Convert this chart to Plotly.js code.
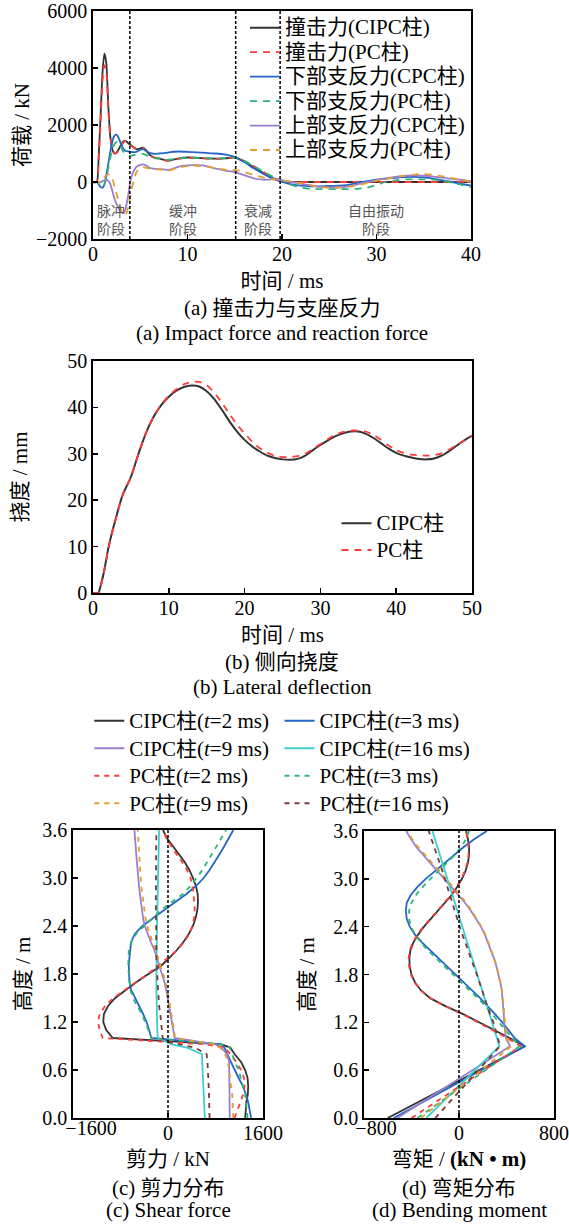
<!DOCTYPE html>
<html><head><meta charset="utf-8">
<script src="https://cdn.plot.ly/plotly-3.0.1.min.js"></script>
<style>html,body{margin:0;padding:0;background:#fff}#chart{width:569px;height:1224px}</style>
</head><body><div id="chart"></div>
<script>
// ---------------- (a) impact force and support reactions ----------------
const timeA = [0,0.4,0.6,0.8,1.0,1.2,1.4,1.6,1.8,2.0,2.2,2.4,2.6,2.8,3.0,3.2,3.4,3.6,3.8,4.0,4.3,4.6,5.0,5.3,5.6,6.0,6.5,7,7.5,8,9,10,11,12,13,14,15,16,17,18,19,20,21,22,23,24,25,26,27,28,29,30,31,32,33,34,35,36,37,38,39,40];
const impactCIPC = [0,0,900,2300,3800,4500,4200,2800,1700,1200,1020,1000,1080,1200,1330,1420,1440,1400,1340,1290,1220,1150,1180,1210,1120,950,860,830,780,750,820,860,850,830,820,830,860,720,520,320,140,30,0,0,0,0,0,0,0,0,0,0,0,0,0,0,0,0,0,0,0,0];
const impactPC = [0,0,800,2100,3500,4100,3900,2700,1700,1200,1050,1000,1060,1150,1280,1380,1430,1420,1370,1300,1220,1150,1170,1200,1100,930,850,820,770,750,810,850,840,820,810,830,860,740,560,360,170,50,0,0,0,0,0,0,0,0,0,0,0,0,0,0,0,0,0,0,0,0];
const lowerCPC = [0,0,-80,-180,-200,-100,200,600,1000,1350,1580,1660,1620,1480,1300,1170,1100,1080,1070,1060,1050,1060,1130,1150,1100,1020,990,1000,1010,1040,1070,1060,1040,1020,1000,960,880,700,480,290,120,0,-80,-130,-150,-150,-140,-130,-100,-30,30,80,120,150,170,180,160,120,60,0,-70,-130];
const lowerPC = [0,0,-50,-120,-150,-80,150,450,800,1100,1280,1380,1420,1330,1200,1070,980,940,920,920,940,960,980,990,950,880,840,820,790,780,820,850,850,840,830,840,850,740,560,370,190,60,-100,-200,-240,-250,-250,-250,-250,-240,-200,-100,0,60,90,90,90,80,50,-30,-100,-180];
const upperCPC = [0,0,0,0,20,60,80,50,-50,-250,-500,-700,-850,-980,-1060,-1090,-1000,-700,-300,100,380,530,600,620,580,500,460,450,440,420,530,580,590,560,470,400,350,240,130,80,90,60,0,-60,-120,-170,-190,-190,-150,-80,0,70,130,180,220,230,220,190,150,110,70,30];
const upperPC = [0,0,0,0,60,150,230,270,250,150,-50,-300,-550,-800,-1000,-1120,-1150,-1050,-750,-400,50,350,500,520,500,460,440,440,420,400,500,560,570,540,480,430,420,350,250,160,100,60,20,-40,-110,-170,-200,-200,-170,-110,-40,40,110,170,220,260,280,250,200,140,70,0];
const stageBounds = [3.9, 15.1, 19.8];
const stageNames = ['脉冲<br>阶段', '缓冲<br>阶段', '衰减<br>阶段', '自由振动<br>阶段'];
const stageCenters = [1.95, 9.5, 17.45, 29.9];

// ---------------- (b) lateral deflection ----------------
const timeB = [0,0.7,1,1.5,2,2.5,3,3.5,4,5,6,7,8,9,10,11,12,13,14,15,16,17,18,19,20,21,22,23,24,25,26,27,28,29,30,31,32,33,34,35,36,37,38,39,40,41,42,43,44,45,46,47,48,49,50];
const deflCIPC = [0,0,1.5,5,9.5,13,16,19,21.5,25,30,34.5,38,40.5,42.3,43.6,44.4,44.7,44.5,43.5,41.8,39.5,37,34.8,33,31.6,30.5,29.6,29.1,28.8,28.7,28.9,29.6,30.8,31.9,32.9,33.8,34.4,34.8,34.8,34.3,33.4,32.3,31.1,30.2,29.6,29.2,28.9,28.8,29,29.6,30.6,31.8,32.9,33.9];
const deflPC = [0,0,1.3,4.8,9.3,12.8,15.9,18.9,21.4,25,30,34.5,38,40.6,42.5,43.9,45,45.5,45.5,44.8,43.2,41,38.6,36.3,34.4,32.6,31.2,30.2,29.6,29.3,29.3,29.5,30,31,32.1,33.2,34.1,34.7,35,35,34.8,34.1,33,31.8,30.8,30.2,29.8,29.7,29.6,29.7,30.1,30.9,31.9,32.9,33.8];

// ---------------- (c) shear force distribution ----------------
const heightC = [0,0.1,0.2,0.3,0.4,0.5,0.6,0.7,0.8,0.88,0.92,0.96,1.0,1.1,1.2,1.3,1.4,1.5,1.6,1.7,1.8,1.9,2.0,2.1,2.2,2.3,2.4,2.5,2.6,2.7,2.8,2.9,3.0,3.1,3.2,3.3,3.4,3.5,3.6];
const shearCIPC2 = [1300,1310,1320,1345,1350,1340,1300,1230,1120,1050,900,0,-930,-1040,-1090,-1080,-1010,-890,-720,-530,-330,-120,20,150,260,350,420,465,495,505,500,470,420,360,280,180,70,-20,-84];
const shearPC2 = [1120,1170,1220,1270,1290,1280,1230,1150,1050,950,650,-200,-1100,-1150,-1180,-1150,-1060,-920,-720,-520,-340,-170,0,160,270,360,410,440,450,445,430,410,380,320,240,140,50,-30,-80];
const shearCIPC3 = [1400,1380,1350,1310,1260,1190,1120,1060,1000,950,900,300,-280,-320,-360,-420,-490,-560,-620,-650,-660,-660,-650,-640,-620,-560,-430,-250,-60,120,310,470,600,700,790,870,950,1020,1100];
const shearPC3 = [1340,1330,1320,1300,1260,1220,1190,1130,1080,1040,900,300,-280,-330,-380,-440,-520,-590,-630,-650,-660,-670,-670,-660,-620,-540,-400,-250,-120,60,250,380,480,580,660,740,820,900,980];
const shearCIPC9 = [1040,1040,1040,1040,1040,1040,1035,1030,990,900,800,450,110,90,60,40,20,0,-30,-60,-100,-140,-180,-230,-290,-340,-390,-420,-440,-455,-470,-490,-500,-515,-525,-535,-545,-555,-565];
const shearPC9 = [1100,1095,1090,1080,1060,1040,1030,1010,960,880,800,450,120,100,80,60,40,20,-10,-40,-80,-120,-160,-210,-260,-310,-350,-380,-400,-420,-440,-450,-460,-470,-480,-490,-500,-505,-510];
const shearCIPC16 = [620,615,610,605,600,595,590,585,570,320,60,-50,-170,-180,-185,-188,-190,-192,-195,-196,-196,-196,-195,-193,-190,-188,-185,-182,-180,-177,-174,-170,-167,-164,-161,-158,-155,-152,-150];
const shearPC16 = [700,700,695,690,685,680,675,665,650,450,200,-50,-90,-100,-115,-130,-150,-160,-170,-178,-185,-190,-195,-198,-200,-203,-205,-205,-205,-205,-205,-205,-205,-203,-202,-200,-198,-197,-196];

// ---------------- (d) bending moment distribution ----------------
const heightD = [0,0.9,1.0,1.1,1.2,1.3,1.4,1.5,1.6,1.7,1.8,1.9,2.0,2.1,2.2,2.3,2.4,2.5,2.6,2.7,2.8,2.9,3.0,3.1,3.2,3.3,3.4,3.5,3.6];
const momentCIPC2 = [-600,555,430,300,170,40,-110,-240,-320,-370,-400,-415,-418,-410,-385,-345,-295,-235,-175,-115,-60,-15,25,55,75,85,85,75,60];
const momentPC2 = [-400,520,410,290,160,30,-110,-235,-320,-375,-405,-420,-425,-415,-390,-350,-300,-240,-180,-120,-65,-20,20,50,70,80,80,72,60];
const momentCIPC3 = [-550,555,470,420,365,305,245,180,110,40,-30,-100,-170,-240,-310,-370,-415,-440,-448,-440,-405,-350,-280,-200,-120,-40,40,130,235];
const momentPC3 = [-350,510,450,395,340,285,225,160,90,20,-50,-120,-190,-260,-320,-370,-405,-420,-420,-400,-360,-305,-240,-170,-100,-35,20,60,85];
const momentCIPC9 = [-520,430,395,385,380,377,373,368,360,348,333,315,295,270,245,218,185,145,100,50,-5,-65,-125,-185,-245,-305,-360,-405,-445];
const momentPC9 = [-320,440,400,392,386,381,376,370,362,350,336,318,298,274,248,222,188,150,108,60,8,-50,-110,-170,-230,-290,-345,-395,-435];
const momentCIPC16 = [-275,340,320,300,280,260,238,217,196,175,154,133,112,91,70,49,28,7,-14,-35,-56,-77,-98,-119,-140,-161,-182,-203,-224];
const momentPC16 = [-200,345,328,310,290,262,240,220,195,172,150,125,100,76,52,28,5,-15,-35,-55,-75,-95,-118,-140,-163,-187,-210,-235,-255];

// ---------------- styling ----------------
const W = 569, H = 1224;
const FONT = "'Liberation Serif', 'Noto Sans CJK SC', serif";
const C = {black:'#333333', red:'#ff3b3b', blue:'#2566c8', green:'#2bb673', purple:'#9a7fd1', orange:'#e0a030', cyan:'#3ccfcf', brown:'#7b3a3a'};
const px = v => v / W, py = v => 1 - v / H;
const big = (s, sz) => '<span style="font-size:' + sz + 'px">' + s + '</span>';

const traces = [];
function addA(y, name, color, dash) {
  traces.push({x: timeA, y: y, xaxis:'x', yaxis:'y', type:'scatter', mode:'lines', name: big(name, 21),
    legend:'legend', line:{color:color, width:1.8, dash:dash, shape:'spline', smoothing:0.6}});
}
addA(impactCIPC, '撞击力(CIPC柱)', C.black, 'solid');
addA(impactPC, '撞击力(PC柱)', C.red, '7px,6px');
addA(lowerCPC, '下部支反力(CPC柱)', C.blue, 'solid');
addA(lowerPC, '下部支反力(PC柱)', C.green, '7px,6px');
addA(upperCPC, '上部支反力(CPC柱)', C.purple, 'solid');
addA(upperPC, '上部支反力(PC柱)', C.orange, '7px,6px');

traces.push({x: timeB, y: deflCIPC, xaxis:'x2', yaxis:'y2', type:'scatter', mode:'lines', name: big('CIPC柱', 21),
  legend:'legend2', line:{color:C.black, width:2, shape:'spline', smoothing:0.6}});
traces.push({x: timeB, y: deflPC, xaxis:'x2', yaxis:'y2', type:'scatter', mode:'lines', name: big('PC柱', 21),
  legend:'legend2', line:{color:C.red, width:1.8, dash:'7px,6px', shape:'spline', smoothing:0.6}});

const dist = [
  {lab:'CIPC柱(<i>t</i>=2 ms)', c:C.black, d:'solid', s:shearCIPC2, m:momentCIPC2, lg:'legend3'},
  {lab:'CIPC柱(<i>t</i>=3 ms)', c:C.blue, d:'solid', s:shearCIPC3, m:momentCIPC3, lg:'legend4'},
  {lab:'CIPC柱(<i>t</i>=9 ms)', c:C.purple, d:'solid', s:shearCIPC9, m:momentCIPC9, lg:'legend3'},
  {lab:'CIPC柱(<i>t</i>=16 ms)', c:C.cyan, d:'solid', s:shearCIPC16, m:momentCIPC16, lg:'legend4'},
  {lab:'PC柱(<i>t</i>=2 ms)', c:C.red, d:'5px,5px', s:shearPC2, m:momentPC2, lg:'legend3'},
  {lab:'PC柱(<i>t</i>=3 ms)', c:C.green, d:'5px,5px', s:shearPC3, m:momentPC3, lg:'legend4'},
  {lab:'PC柱(<i>t</i>=9 ms)', c:C.orange, d:'5px,5px', s:shearPC9, m:momentPC9, lg:'legend3'},
  {lab:'PC柱(<i>t</i>=16 ms)', c:C.brown, d:'5px,5px', s:shearPC16, m:momentPC16, lg:'legend4'}
];
dist.forEach((o, i) => {
  traces.push({x:o.s, y:heightC, xaxis:'x3', yaxis:'y3', type:'scatter', mode:'lines', name: big(o.lab, 21),
    legend:o.lg, legendgroup:'g'+i, line:{color:o.c, width:1.8, dash:o.d}});
  traces.push({x:o.m, y:heightD, xaxis:'x4', yaxis:'y4', type:'scatter', mode:'lines', name: big(o.lab, 21),
    legendgroup:'g'+i, showlegend:false, line:{color:o.c, width:1.8, dash:o.d}});
});
// empty carriers for the overlaying axes that hold the shifted leftmost tick labels
traces.push({x:[], y:[], xaxis:'x5', yaxis:'y3', type:'scatter', mode:'lines', showlegend:false});
traces.push({x:[], y:[], xaxis:'x6', yaxis:'y4', type:'scatter', mode:'lines', showlegend:false});

const tf = {family:FONT, size:20, color:'#000'};
function axis(domain, range, tickvals, anchor, title, standoff, extra) {
  return Object.assign({
    domain: domain, range: range, tickvals: tickvals, anchor: anchor,
    showline:true, linecolor:'#000', linewidth:1.8, mirror:true,
    ticks:'inside', ticklen:5, tickwidth:1.5, tickcolor:'#000',
    showgrid:false, zeroline:false, tickfont:tf,
    title:{text:title, standoff:standoff, font:{family:FONT, size:21, color:'#000'}}
  }, extra || {});
}
function shiftAxis(base, range, val, shift) {
  return {overlaying:base, anchor: base === 'x3' ? 'y3' : 'y4', range:range, tickvals:[val],
    showline:false, ticks:'', showgrid:false, zeroline:false, tickfont:tf,
    ticklabelshift:shift, ticklabelstandoff:-4};
}
const hTicks = [0, 0.6, 1.2, 1.8, 2.4, 3.0, 3.6];
const xl = {ticklabelstandoff:-4};

const shapes = [];
stageBounds.forEach(b => shapes.push({type:'line', xref:'x', yref:'y domain', x0:b, x1:b, y0:0, y1:1,
  line:{color:'#000', width:1.5, dash:'3px,2px'}}));
shapes.push({type:'line', xref:'x3', yref:'y3 domain', x0:0, x1:0, y0:0, y1:1, line:{color:'#000', width:1.5, dash:'3px,2px'}});
shapes.push({type:'line', xref:'x4', yref:'y4 domain', x0:0, x1:0, y0:0, y1:1, line:{color:'#000', width:1.5, dash:'3px,2px'}});

const annotations = [];
stageNames.forEach((t, i) => annotations.push({xref:'x', yref:'paper', x:stageCenters[i], y:py(219),
  text:t, showarrow:false, xanchor:'center', yanchor:'middle',
  font:{family:"'Noto Sans CJK SC', sans-serif", size:14, color:'#555'}}));
function cap(text, cx, cy) {
  annotations.push({xref:'paper', yref:'paper', x:px(cx), y:py(cy), text:text, showarrow:false,
    xanchor:'center', yanchor:'middle', font:{family:FONT, size:21, color:'#000'}});
}
cap('(a) 撞击力与支座反力', 282, 308);
cap('(a) Impact force and reaction force', 282, 333);
cap('(b) 侧向挠度', 282, 662);
cap('(b) Lateral deflection', 282, 687);
cap('(c) 剪力分布', 168, 1188);
cap('(c) Shear force', 168, 1210);
cap('(d) 弯矩分布', 459, 1188);
cap('(d) Bending moment', 459, 1210);

const legBase = {xanchor:'left', yanchor:'top', bgcolor:'rgba(0,0,0,0)', borderwidth:0, tracegroupgap:0};
const lf = s => ({family:FONT, size:s, color:'#000'});

const layout = {
  width:W, height:H, margin:{l:0, r:0, t:0, b:0}, paper_bgcolor:'#fff', plot_bgcolor:'#fff',
  font:{family:FONT, size:20, color:'#000'}, showlegend:true, hovermode:false,
  xaxis: axis([px(93), px(471)], [0, 40], [0,10,20,30,40], 'y', '时间 / ms', 9, xl),
  yaxis: axis([py(239), py(11)], [-2000, 6000], [-2000,0,2000,4000,6000], 'x', '荷载 / kN', 0),
  xaxis2: axis([px(93), px(472)], [0, 50], [0,10,20,30,40,50], 'y2', '时间 / ms', 9, xl),
  yaxis2: axis([py(593), py(361)], [0, 50], [0,10,20,30,40,50], 'x2', '挠度 / mm', 34),
  xaxis3: axis([px(73), px(263)], [-1600, 1600], [0, 1600], 'y3', '剪力 / kN', 8, xl),
  yaxis3: axis([py(1118), py(830)], [0, 3.6], hTicks, 'x3', '高度 / m', 6, {tickformat:'.1f'}),
  xaxis4: axis([px(364), px(554)], [-800, 800], [0, 800], 'y4', '弯矩 / <b>(kN • m)</b>', 8, xl),
  yaxis4: axis([py(1118), py(831)], [0, 3.6], hTicks, 'x4', '高度 / m', 13, {tickformat:'.1f'}),
  xaxis5: shiftAxis('x3', [-1600, 1600], -1600, 18),
  xaxis6: shiftAxis('x4', [-800, 800], -800, 12),
  legend: Object.assign({}, legBase, {x:px(245), y:py(10.5), font:lf(16.5)}),
  legend2: Object.assign({}, legBase, {x:px(336.5), y:py(505), font:lf(18.2)}),
  legend3: Object.assign({}, legBase, {x:px(89.3), y:py(702), font:lf(18.85)}),
  legend4: Object.assign({}, legBase, {x:px(279.5), y:py(702), font:lf(18.85)}),
  shapes: shapes, annotations: annotations
};

Plotly.newPlot('chart', traces, layout, {displayModeBar:false, staticPlot:true});
</script>
</body></html>
